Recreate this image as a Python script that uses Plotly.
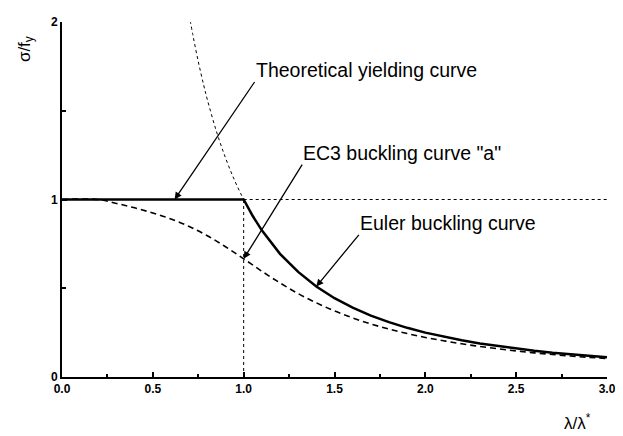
import plotly.graph_objects as go

# ---- data ----
lam_yield = [0.0, 1.0, 1.05, 1.1, 1.2, 1.3, 1.4, 1.5, 1.6, 1.7, 1.8, 1.9, 2.0,
             2.1, 2.2, 2.3, 2.4, 2.5, 2.6, 2.7, 2.8, 2.9, 3.0]
sig_yield = [1.0, 1.0, 0.907, 0.826, 0.694, 0.592, 0.510, 0.444, 0.391, 0.346, 0.309,
             0.277, 0.250, 0.227, 0.207, 0.189, 0.174, 0.160, 0.148, 0.137, 0.128,
             0.119, 0.111]

lam_euler = [0.70, 0.72, 0.75, 0.78, 0.80, 0.85, 0.90, 0.95, 1.0, 1.05, 1.1, 1.2, 1.3,
             1.4, 1.5, 1.6, 1.7, 1.8, 1.9, 2.0, 2.1, 2.2, 2.3, 2.4, 2.5, 2.6, 2.7,
             2.8, 2.9, 3.0]
sig_euler = [2.041, 1.929, 1.778, 1.644, 1.563, 1.384, 1.235, 1.108, 1.000, 0.907,
             0.826, 0.694, 0.592, 0.510, 0.444, 0.391, 0.346, 0.309, 0.277, 0.250,
             0.227, 0.207, 0.189, 0.174, 0.160, 0.148, 0.137, 0.128, 0.119, 0.111]

lam_ec3 = [0.0, 0.2, 0.3, 0.4, 0.5, 0.6, 0.7, 0.8, 0.9, 1.0, 1.1, 1.2, 1.3, 1.4, 1.5,
           1.6, 1.7, 1.8, 1.9, 2.0, 2.1, 2.2, 2.3, 2.4, 2.5, 2.6, 2.7, 2.8, 2.9, 3.0]
chi_ec3 = [1.0, 1.0, 0.978, 0.953, 0.924, 0.890, 0.848, 0.796, 0.734, 0.666, 0.596,
           0.530, 0.470, 0.418, 0.372, 0.333, 0.299, 0.270, 0.245, 0.223, 0.204,
           0.187, 0.172, 0.159, 0.147, 0.136, 0.127, 0.118, 0.111, 0.104]

lam_ref = 1.0
sig_ref = 1.0
x_max = 3.0

x_ticks = [0.0, 0.5, 1.0, 1.5, 2.0, 2.5, 3.0]
x_tick_text = ["0.0", "0.5", "1.0", "1.5", "2.0", "2.5", "3.0"]
y_ticks = [0, 1, 2]
y_tick_text = ["0", "1", "2"]

labels = ["Theoretical yielding curve", "EC3 buckling curve \"a\"", "Euler buckling curve"]
# arrow tips (on the curves) and arrow tails (at the lower-left corner of each label)
tip_x = [0.62, 1.0, 1.40]
tip_y = [1.0, 0.666, 0.51]
tail_x = [1.06, 1.322, 1.634]
tail_y = [1.662, 1.196, 0.801]

FONT = "Liberation Sans, Arial, sans-serif"

fig = go.Figure()

# dotted guide lines
fig.add_trace(go.Scatter(x=[lam_ref, x_max], y=[sig_ref, sig_ref], mode="lines",
                         line=dict(color="black", width=1, dash="dot"), hoverinfo="skip"))
fig.add_trace(go.Scatter(x=[lam_ref, lam_ref], y=[0, sig_ref], mode="lines",
                         line=dict(color="black", width=1, dash="dot"), hoverinfo="skip"))
# Euler curve (dotted)
fig.add_trace(go.Scatter(x=lam_euler, y=sig_euler, mode="lines", line_shape="spline",
                         line=dict(color="black", width=1, dash="dot")))
# EC3 curve a (dashed)
fig.add_trace(go.Scatter(x=lam_ec3, y=chi_ec3, mode="lines", line_shape="spline",
                         line=dict(color="black", width=1.6, dash="6px,4px")))
# yielding curve (solid)
fig.add_trace(go.Scatter(x=lam_yield, y=sig_yield, mode="lines",
                         line=dict(color="black", width=2.5)))

for i in range(3):
    fig.add_annotation(x=tip_x[i], y=tip_y[i], ax=tail_x[i], ay=tail_y[i],
                       xref="x", yref="y", axref="x", ayref="y", text=labels[i],
                       xanchor="left", yanchor="bottom", borderpad=0,
                       showarrow=True, arrowhead=2, arrowsize=1.1, arrowwidth=1.3,
                       arrowcolor="black",
                       font=dict(family=FONT, size=19.5, color="black"))

fig.add_annotation(x=-0.067, y=0.925, xref="paper", yref="paper",
                   xanchor="center", yanchor="middle",
                   text="σ/f<sub>y</sub>", textangle=-90, showarrow=False,
                   font=dict(family=FONT, size=17, color="black"))
fig.add_annotation(x=0.945, y=-0.128, xref="paper", yref="paper",
                   xanchor="center", yanchor="middle",
                   text="λ/λ<sup>*</sup>", showarrow=False,
                   font=dict(family=FONT, size=17, color="black"))

# page body has an 8px margin: shrink the figure so the plot area lands where the reference has it
fig.update_layout(
    width=615, height=428,
    margin=dict(l=54, r=10, t=7, b=59),
    paper_bgcolor="white", plot_bgcolor="white",
    showlegend=False,
    font=dict(family=FONT, color="black"),
)
fig.update_xaxes(range=[0, x_max], tickvals=x_ticks, ticktext=x_tick_text,
                 showgrid=False, zeroline=False, showline=True, linecolor="black",
                 linewidth=2, ticks="inside", ticklen=5, tickwidth=1.5, tickcolor="black",
                 tickfont=dict(family=FONT, size=12, color="black", weight="bold"),
                 minor=dict(dtick=0.25, ticks="inside", ticklen=3, tickcolor="black"))
fig.update_yaxes(range=[0, 2], tickvals=y_ticks, ticktext=y_tick_text,
                 showgrid=False, zeroline=False, showline=True, linecolor="black",
                 linewidth=2, ticks="inside", ticklen=5, tickwidth=1.5, tickcolor="black",
                 tickfont=dict(family=FONT, size=12, color="black", weight="bold"),
                 minor=dict(dtick=0.5, ticks="inside", ticklen=4, tickcolor="black"))

fig.write_html("out.html")
